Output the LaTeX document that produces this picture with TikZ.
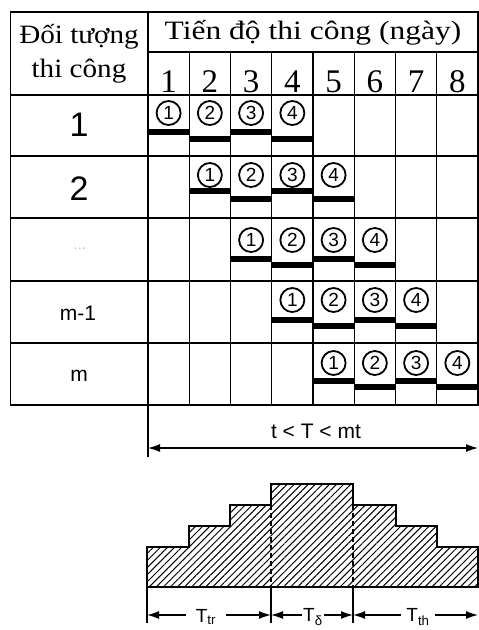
\documentclass[tikz,border=0pt]{standalone}
\usepackage{fontspec}
\usepackage{graphicx}
\setmainfont{Liberation Serif}
\setsansfont{Liberation Sans}
\usetikzlibrary{arrows.meta,patterns.meta}
\begin{document}
\begin{tikzpicture}[x=1pt,y=-1pt,
  grid/.style={line width=1.4pt},
  hd/.style={font=\fontsize{26.5}{28}\selectfont, inner sep=0pt, anchor=base},
  num/.style={font=\fontsize{33}{35}\selectfont, inner sep=0pt, anchor=base},
  rowlab/.style={font=\sffamily\fontsize{34}{36}\selectfont, inner sep=0pt},
  rowlabsm/.style={font=\sffamily\fontsize{21}{23}\selectfont, inner sep=0pt},
  circ/.style={circle, draw, line width=1.8pt, minimum size=24pt, inner sep=0pt, font=\sffamily\fontsize{19}{19}\selectfont},
  bar/.style={line width=6pt},
  dim/.style={line width=1.3pt, -{Latex[length=12pt,width=8pt]}},
  dimlab/.style={font=\sffamily\fontsize{19}{19}\selectfont, inner ysep=0pt},
  tick/.style={line width=1.1pt},
]
\useasboundingbox (0,0) rectangle (479,630);

% ---- table grid ----
\draw[grid] (10.5,12) rectangle (478,405);
\draw[grid] (148,12) -- (148,405);
\draw[grid] (148,52) -- (478,52);
\foreach \c in {1,...,7} {
  \draw[grid] ({148+41.25*\c},52) -- ({148+41.25*\c},405);
}
\foreach \y in {95,156,218,281,343} {
  \draw[grid] (10.5,\y) -- (478,\y);
}

% ---- header text ----
\node[hd] (h1) at (79,43) {\scalebox{1.1}[1]{Đối tượng}};
\node[hd] (h2) at (79,77) {\scalebox{1.1}[1]{thi công}};
\node[hd] (h3) at (313,39) {\scalebox{1.19}[1]{Tiến độ thi công (ngày)}};
\foreach \c in {1,...,8} {
  \node[num] (d\c) at ({148+41.25*(\c-0.5)},92) {\c};
}

% ---- row labels ----
\node[rowlab] (r1) at (79,125) {1};
\node[rowlab] (r2) at (79,189) {2};
\node[inner sep=0pt, font=\sffamily\fontsize{15}{15}\selectfont, text=gray!45] (r3) at (80,249) {...};
\node[rowlabsm] (r4) at (78,313) {m-1};
\node[rowlabsm] (r5) at (79,376) {m};

% ---- circles and bars ----
\foreach \r/\cy/\hi/\lo in {1/113/131.5/139, 2/175/190.5/198.5, 3/240/258.5/264.5, 4/300/319.5/325.5, 5/363/380.5/386.5} {
  \foreach \j in {1,...,4} {
    \pgfmathsetmacro\xl{148+41.25*(\r+\j-2)}
    \pgfmathsetmacro\xr{\xl+41.25}
    \pgfmathsetmacro\yb{mod(\j,2)==1 ? \hi : \lo}
    \node[circ] (c\r\j) at ({\xl+20.6},\cy) {\j};
    \draw[bar] (\xl,\yb) -- (\xr,\yb);
  }
}

% ---- total duration arrow ----
\coordinate (ta) at (148,448);
\coordinate (tb) at (478,448);
\coordinate (tt) at (148,405);
\coordinate (tu) at (148,457);
\draw[tick] (tt) -- (tu);
\draw[line width=1.2pt, {Latex[length=12pt,width=8pt]}-{Latex[length=12pt,width=8pt]}] (ta) -- (tb);
\node[font=\sffamily\fontsize{21}{21}\selectfont, inner sep=0pt] (tT) at (316,431) {t < T < mt};

% ---- resource profile ----
\draw[line width=1.8pt, pattern={Lines[angle=45,distance=5pt,line width=1pt]}]
  (147,587) -- (147,547) -- (189,547) -- (189,526) -- (230,526) -- (230,505)
  -- (271,505) -- (271,484) -- (353,484) -- (353,505) -- (396,505) -- (396,526)
  -- (437,526) -- (437,547) -- (478,547) -- (478,587) -- cycle;
\coordinate (p1) at (271,505);
\coordinate (p2) at (353,505);
\coordinate (b0) at (147,587);
\coordinate (b1) at (271,587);
\coordinate (b2) at (353,587);
\draw[line width=1.3pt, dash pattern=on 5pt off 3pt] (p1) -- (b1);
\draw[line width=1.3pt, dash pattern=on 5pt off 3pt] (p2) -- (b2);

% ---- dimension line ----
\coordinate (d0) at (147,615);
\coordinate (e1) at (271,615);
\coordinate (e2) at (353,615);
\coordinate (e3) at (478,615);
\coordinate (k0) at (147,623);
\coordinate (k1) at (271,623);
\coordinate (k2) at (353,623);
\draw[tick] (b0) -- (k0);
\draw[tick] (b1) -- (k1);
\draw[tick] (b2) -- (k2);
\node[dimlab, inner xsep=10pt] (Ttr) at (206,617) {T\textsubscript{tr}};
\node[dimlab, inner xsep=1pt] (Tdd) at (313,617) {T\textsubscript{δ}};
\node[dimlab, inner xsep=5pt] (Tth) at (418,617) {T\textsubscript{th}};
\draw[dim] (Ttr.west |- d0) -- (d0);
\draw[dim] (Ttr.east |- d0) -- (e1);
\draw[dim] (Tdd.west |- d0) -- (e1);
\draw[dim] (Tdd.east |- d0) -- (e2);
\draw[dim] (Tth.west |- d0) -- (e2);
\draw[dim] (Tth.east |- d0) -- (e3);
\end{tikzpicture}
\end{document}
